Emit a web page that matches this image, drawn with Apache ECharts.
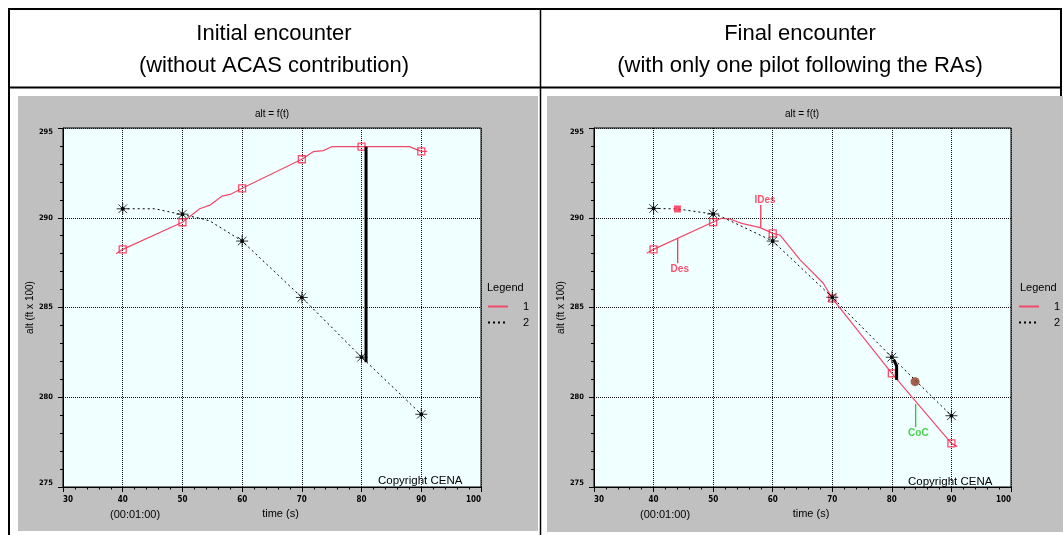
<!DOCTYPE html>
<html>
<head>
<meta charset="utf-8">
<script src="https://cdn.jsdelivr.net/npm/echarts@6/dist/echarts.min.js"></script>
<style>
html,body{margin:0;padding:0;background:#fff;}
#c{width:1063px;height:535px;}
</style>
</head>
<body>
<div id="c"></div>
<script>
// ---------- data ----------
const headerLeft = 'Initial encounter\n(without ACAS contribution)';
const headerRight = 'Final encounter\n(with only one pilot following the RAs)';
const xTicks = { min: 30, max: 100, step: 10 };
const yTicks = { min: 275, max: 295, step: 5 };

// Left chart (initial encounter)
const L1_line = [[38.9,288.0],[40,288.24],[50,289.75],[52.9,290.5],[54.6,290.7],[56.6,291.2],[58,291.3],[60,291.64],[70,293.26],[71.9,293.68],[73.6,293.74],[75,293.96],[80,293.96],[88,293.96],[90,293.7],[91,293.7]];
const L1_marks = [[40,288.24],[50,289.75],[60,291.64],[70,293.26],[80,293.96],[90,293.7]];
const L2_line = [[40,290.5],[45.4,290.5],[50,290.17],[53,289.97],[54.6,289.82],[60,288.7],[70,285.56],[80,282.23],[90,279.05]];
const L2_marks = [[40,290.5],[50,290.2],[60,288.7],[70,285.56],[80,282.23],[90,279.05]];
const L_sep = [[80.75,293.96],[80.75,281.95]];

// Right chart (final encounter)
const R1_line = [[38.85,288.02],[40,288.24],[50,289.76],[51.4,289.97],[52.8,289.93],[54.8,289.69],[57.9,289.45],[60,289.13],[61.2,289.04],[64.6,287.65],[68.5,286.35],[70,285.51],[80,281.33],[90,277.43],[91,277.25]];
const R1_marks = [[40,288.24],[50,289.76],[60,289.13],[70,285.51],[80,281.33],[90,277.43]];
const R2_line = [[40,290.52],[44,290.49],[50,290.21],[51.4,290.06],[60,288.7],[70,285.57],[80,282.23],[90,278.97]];
const R2_marks = [[40,290.52],[50,290.21],[60,288.7],[70,285.57],[80,282.23],[90,278.97]];
const R_sep = [[80.3,282.1],[80.8,281.75],[80.8,280.96]];
const R_ra = [[44,290.49]];
const R_cpa = [[83.9,280.87]];
const desLeader = [[44.05,288.86],[44.05,287.46]];
const idesLeader = [[58,290.71],[58,289.47]];
const cocLeader = [[84,279.62],[84,278.33]];
const redNotes = [{ name: 'Des', value: [44.4,287.14] }, { name: 'IDes', value: [58.7,290.99] }];
const greenNotes = [{ name: 'CoC', value: [84.45,277.99] }];

// ---------- styles ----------
const FONT = 'Liberation Sans, Arial, sans-serif';
const NARROW = 'Liberation Sans Narrow, DejaVu Sans Condensed, Arial Narrow, sans-serif';
const RED_LINE = '#f04a6a';
const RED_MARK = '#ff2448';
const STAR = 'path://M0,-6L0,6M-6,0L6,0M-4.3,-4.3L4.3,4.3M-4.3,4.3L4.3,-4.3M-1.3,-1.3L1.3,-1.3L1.3,1.3L-1.3,1.3Z';

const grids = [
  { left: 63, top: 128, width: 418, height: 359 },
  { left: 594, top: 128, width: 417, height: 359 }
];

function xAxis(i) {
  return {
    type: 'value', gridIndex: i, min: xTicks.min, max: xTicks.max, interval: xTicks.step,
    name: 'time (s)', nameLocation: 'middle', nameGap: 20,
    nameTextStyle: { fontFamily: FONT, fontSize: 11, color: '#000', padding: [0,0,0,17] },
    axisLine: { lineStyle: { color: '#000', width: 1 } },
    axisTick: { show: true, inside: false, length: 5, lineStyle: { color: '#000' } },
    minorTick: { show: true, splitNumber: 5, length: 2.5, lineStyle: { color: '#000' } },
    axisLabel: { color: '#000', fontFamily: NARROW, fontWeight: 'bold', fontSize: 8, margin: 9,
      alignMinLabel: 'left', alignMaxLabel: 'right' },
    splitLine: { show: true, lineStyle: { color: '#111', type: [1,1], width: 1 } }
  };
}
function yAxis(i) {
  return {
    type: 'value', gridIndex: i, min: yTicks.min, max: yTicks.max, interval: yTicks.step,
    name: 'alt (ft x 100)', nameLocation: 'middle', nameGap: 19, nameRotate: 90,
    nameTextStyle: { fontFamily: FONT, fontSize: 10, color: '#000' },
    axisLine: { show: true, lineStyle: { color: '#000', width: 1 } },
    axisTick: { show: true, inside: false, length: 5, lineStyle: { color: '#000' } },
    minorTick: { show: true, splitNumber: 5, length: 3, lineStyle: { color: '#000' } },
    axisLabel: { color: '#000', fontFamily: NARROW, fontWeight: 'bold', fontSize: 7.5, margin: 10,
      verticalAlignMinLabel: 'bottom', verticalAlignMaxLabel: 'top' },
    splitLine: { show: true, lineStyle: { color: '#111', type: [1,1], width: 1 } }
  };
}

function redLine(i, data) {
  return { name: '1', type: 'line', xAxisIndex: i, yAxisIndex: i, data: data, symbol: 'none',
    lineStyle: { color: RED_LINE, width: 1.2 }, itemStyle: { color: RED_LINE }, z: 3, animation: false };
}
function redMarks(i, data) {
  return { name: '1m', type: 'scatter', xAxisIndex: i, yAxisIndex: i, data: data, symbol: 'rect', symbolSize: 7,
    itemStyle: { color: 'rgba(0,0,0,0)', borderColor: RED_MARK, borderWidth: 1.3 }, z: 4, animation: false };
}
function blackLine(i, data) {
  return { name: '2', type: 'line', xAxisIndex: i, yAxisIndex: i, data: data, symbol: 'none',
    lineStyle: { color: '#000', width: 1, type: [2,3] }, itemStyle: { color: '#000' }, z: 3, animation: false };
}
function blackMarks(i, data) {
  return { name: '2m', type: 'scatter', xAxisIndex: i, yAxisIndex: i, data: data, symbol: STAR, symbolSize: 12,
    itemStyle: { color: '#000', borderColor: '#000', borderWidth: 1 }, z: 5, animation: false };
}
function sepLine(i, data) {
  return { name: 'sep', type: 'line', xAxisIndex: i, yAxisIndex: i, data: data, symbol: 'none',
    lineStyle: { color: '#000', width: 3 }, z: 6, animation: false };
}
function leader(i, data, color) {
  return { name: 'lead', type: 'line', xAxisIndex: i, yAxisIndex: i, data: data, symbol: 'none',
    lineStyle: { color: color, width: 1.2 }, z: 6, animation: false };
}
function notes(i, data, color) {
  return { name: 'note', type: 'scatter', xAxisIndex: i, yAxisIndex: i, data: data, symbolSize: 1,
    itemStyle: { color: 'rgba(0,0,0,0)' },
    label: { show: true, position: 'inside', formatter: '{b}', color: color, fontFamily: FONT, fontWeight: 'bold', fontSize: 10 },
    z: 7, animation: false };
}

function txt(text, left, top, size, align) {
  return { text: text, left: left, top: top, padding: 0, textAlign: align || 'left',
    textStyle: { fontFamily: FONT, fontSize: size, fontWeight: 'normal', color: '#000', lineHeight: size * 1.45 } };
}

function legend(left) {
  return { data: ['1','2'], orient: 'vertical', left: left, top: 301, padding: 0, itemWidth: 20, itemHeight: 12, itemGap: 5,
    selectedMode: false, itemStyle: { opacity: 0 },
    textStyle: { fontFamily: FONT, fontSize: 11, color: '#000', padding: [0,0,0,10] } };
}

const option = {
  animation: false,
  backgroundColor: '#fff',
  graphic: [
    { type: 'rect', z: -20, shape: { x: 18, y: 96, width: 520, height: 435 }, style: { fill: '#c0c0c0' } },
    { type: 'rect', z: -20, shape: { x: 547, y: 96, width: 516, height: 436 }, style: { fill: '#c0c0c0' } },
    { type: 'line', z: -10, shape: { x1: 9, y1: 8, x2: 9, y2: 535 }, style: { stroke: '#000', lineWidth: 2 } },
    { type: 'line', z: -10, shape: { x1: 8, y1: 9, x2: 1062, y2: 9 }, style: { stroke: '#000', lineWidth: 2 } },
    { type: 'line', z: -10, shape: { x1: 8, y1: 87.5, x2: 1062, y2: 87.5 }, style: { stroke: '#000', lineWidth: 2 } },
    { type: 'line', z: -10, shape: { x1: 540.5, y1: 8, x2: 540.5, y2: 535 }, style: { stroke: '#000', lineWidth: 1.5 } },
    { type: 'line', z: -30, shape: { x1: 1061, y1: 8, x2: 1061, y2: 96 }, style: { stroke: '#000', lineWidth: 2 } }
  ],
  title: [
    { text: headerLeft, left: 274, top: 18, padding: 0, textAlign: 'center',
      textStyle: { fontFamily: FONT, fontSize: 22, fontWeight: 'normal', color: '#000', lineHeight: 32 } },
    { text: headerRight, left: 800, top: 18, padding: 0, textAlign: 'center',
      textStyle: { fontFamily: FONT, fontSize: 22, fontWeight: 'normal', color: '#000', lineHeight: 32 } },
    txt('alt = f(t)', 272, 107, 10, 'center'),
    txt('alt = f(t)', 802, 107, 10, 'center'),
    txt('Legend', 487, 280, 11),
    txt('Legend', 1020, 280, 11),
    txt('Copyright CENA', 378, 472, 11.5),
    txt('Copyright CENA', 908, 473, 11.5),
    txt('(00:01:00)', 110, 507, 11),
    txt('(00:01:00)', 640, 507, 11)
  ],
  legend: [legend(487), legend(1018)],
  grid: grids.map(g => Object.assign({ show: true, backgroundColor: '#f0ffff', borderColor: '#000', borderWidth: 1, containLabel: false }, g)),
  xAxis: [xAxis(0), xAxis(1)],
  yAxis: [yAxis(0), yAxis(1)],
  series: [
    redLine(0, L1_line), blackLine(0, L2_line), redMarks(0, L1_marks), blackMarks(0, L2_marks), sepLine(0, L_sep),
    redLine(1, R1_line), blackLine(1, R2_line), redMarks(1, R1_marks), blackMarks(1, R2_marks), sepLine(1, R_sep),
    { name: 'ra', type: 'scatter', xAxisIndex: 1, yAxisIndex: 1, data: R_ra, symbol: 'rect', symbolSize: 7,
      itemStyle: { color: RED_MARK }, z: 6, animation: false },
    { name: 'cpa', type: 'scatter', xAxisIndex: 1, yAxisIndex: 1, data: R_cpa, symbol: 'circle', symbolSize: 9,
      itemStyle: { color: '#8b3a1e' }, z: 6, animation: false },
    leader(1, desLeader, RED_MARK), leader(1, idesLeader, RED_MARK), leader(1, cocLeader, '#1ec81e'),
    notes(1, redNotes, RED_MARK), notes(1, greenNotes, '#1ec81e')
  ]
};

const chart = echarts.init(document.getElementById('c'), null, { renderer: 'canvas' });
chart.setOption(option);
</script>
</body>
</html>
